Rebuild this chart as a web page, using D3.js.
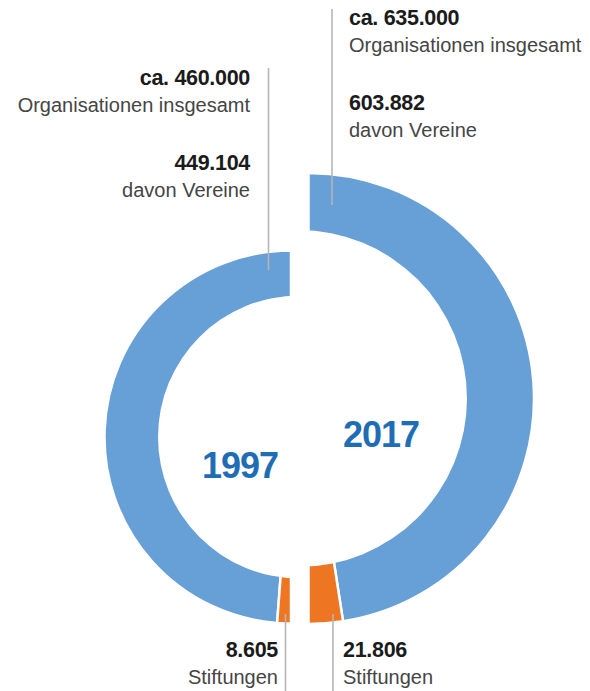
<!DOCTYPE html>
<html>
<head>
<meta charset="utf-8">
<script src="https://cdn.jsdelivr.net/npm/d3@7/dist/d3.min.js"></script>
<style>
  html, body { margin: 0; padding: 0; background: #fff; }
  svg { display: block; }
  text { font-family: "Liberation Sans", Arial, sans-serif; }
</style>
</head>
<body>
<svg id="chart" width="590" height="691"></svg>
<script>
// ---- data ----
const years = ["1997", "2017"];
const totals = [460000, 635000];
const vereine = [449104, 603882];
const stiftungen = [8605, 21806];
const totalPrefix = "ca. ";
const labelTotal = "Organisationen insgesamt";
const labelVereine = "davon Vereine";
const labelStiftungen = "Stiftungen";

// ---- layout ----
const W = 590, H = 691;
const svg = d3.select("#chart");
const de = d3.formatLocale({ decimal: ",", thousands: ".", grouping: [3], currency: ["", "€"] });
const fmt = de.format(",d");

const colBlue = "#679fd7", colOrange = "#ee7623", colYear = "#1f6db5";
const colLine = "#b5b5b5", colBold = "#1b1b1b", colText = "#454545";

// ring geometry per year (layout only)
const rings = [
  { ocx: 291, icx: 299.5, cy: 437, R: 186.5, r: 141.5, dir: -1 },
  { ocx: 308.5, icx: 298.5, cy: 398.5, R: 225.5, r: 168.5, dir: 1 }
];

years.forEach((yr, i) => {
  const g = rings[i];
  const pie = d3.pie().sort(null).value(d => d.v)
    .startAngle(0).endAngle(g.dir * Math.PI);
  const parts = [
    { k: "vereine", v: vereine[i], c: colBlue },
    { k: "rest", v: totals[i] - vereine[i], c: colOrange }
  ];
  const arcs = pie(parts);
  const wedge = d3.arc().innerRadius(0).outerRadius(g.R);
  svg.append("g").attr("transform", `translate(${g.ocx},${g.cy})`)
    .selectAll("path").data(arcs).join("path")
    .attr("d", wedge)
    .attr("fill", d => d.data.c)
    .attr("stroke", "#fff")
    .attr("stroke-width", 2.5)
    .attr("stroke-linejoin", "miter");
  // inner hole (half disc)
  const hole = d3.arc().innerRadius(0).outerRadius(g.r)
    .startAngle(0).endAngle(g.dir * Math.PI);
  svg.append("path")
    .attr("transform", `translate(${g.icx},${g.cy})`)
    .attr("d", hole())
    .attr("fill", "#fff");
});

// year labels
const yearPos = [{ x: 240, y: 478 }, { x: 381, y: 447 }];
svg.selectAll("text.year").data(years).join("text")
  .attr("class", "year")
  .attr("x", (d, i) => yearPos[i].x)
  .attr("y", (d, i) => yearPos[i].y)
  .attr("text-anchor", "middle")
  .attr("font-size", 36)
  .attr("font-weight", "bold")
  .attr("fill", colYear)
  .attr("letter-spacing", -1)
  .text(d => d);

// leader lines
const leaders = [
  { x: 268.5, y1: 68, y2: 270 },
  { x: 332, y1: 9, y2: 205 },
  { x: 285.5, y1: 614, y2: 691 },
  { x: 333, y1: 614, y2: 691 }
];
svg.selectAll("line.leader").data(leaders).join("line")
  .attr("x1", d => d.x).attr("x2", d => d.x)
  .attr("y1", d => d.y1).attr("y2", d => d.y2)
  .attr("stroke", colLine).attr("stroke-width", 1.6);

// top annotation blocks
const topBlocks = [
  { x: 250, anchor: "end", y0: 85 },
  { x: 349, anchor: "start", y0: 25 }
];
years.forEach((yr, i) => {
  const b = topBlocks[i];
  const lines = [
    { t: totalPrefix + fmt(totals[i]), bold: true, dy: 0 },
    { t: labelTotal, bold: false, dy: 27 },
    { t: fmt(vereine[i]), bold: true, dy: 85 },
    { t: labelVereine, bold: false, dy: 112 }
  ];
  svg.append("g").selectAll("text").data(lines).join("text")
    .attr("x", b.x).attr("y", d => b.y0 + d.dy)
    .attr("text-anchor", b.anchor)
    .attr("font-size", d => d.bold ? 21.5 : 20)
    .attr("font-weight", d => d.bold ? "bold" : "normal")
    .attr("fill", d => d.bold ? colBold : colText)
    .attr("letter-spacing", d => d.bold ? -0.3 : 0)
    .text(d => d.t);
});

// bottom annotation blocks
const botBlocks = [
  { x: 278, anchor: "end" },
  { x: 343, anchor: "start" }
];
years.forEach((yr, i) => {
  const b = botBlocks[i];
  const lines = [
    { t: fmt(stiftungen[i]), bold: true, y: 657 },
    { t: labelStiftungen, bold: false, y: 684 }
  ];
  svg.append("g").selectAll("text").data(lines).join("text")
    .attr("x", b.x).attr("y", d => d.y)
    .attr("text-anchor", b.anchor)
    .attr("font-size", d => d.bold ? 21.5 : 20)
    .attr("font-weight", d => d.bold ? "bold" : "normal")
    .attr("fill", d => d.bold ? colBold : colText)
    .attr("letter-spacing", d => d.bold ? -0.3 : 0)
    .text(d => d.t);
});
</script>
</body>
</html>
